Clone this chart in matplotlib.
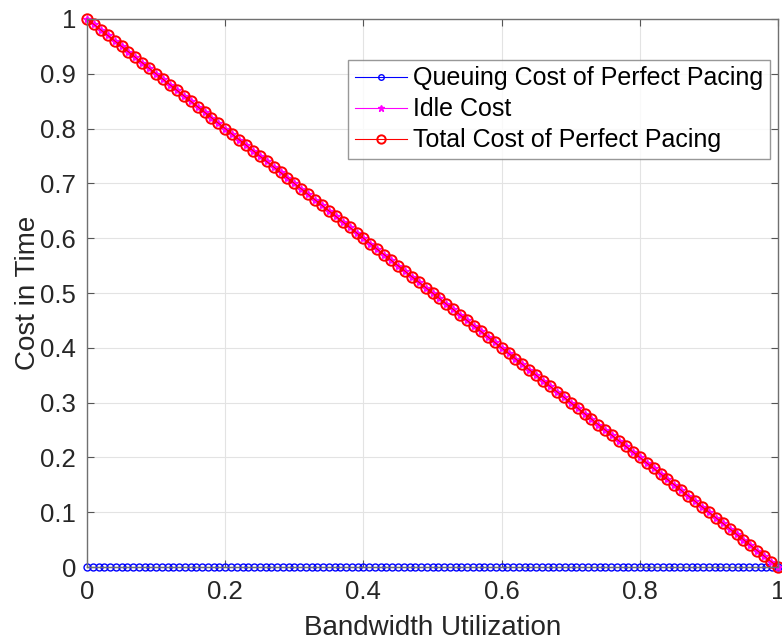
import matplotlib
matplotlib.use("Agg")
import matplotlib.pyplot as plt

plt.rcParams['font.family'] = ['Liberation Sans', 'DejaVu Sans']

# Queuing cost of perfect pacing (sampled on a finer grid)
queue_util = [
    0.0, 0.0083, 0.0167, 0.025, 0.0333, 0.0417, 0.05, 0.0583, 0.0667, 0.075,
    0.0833, 0.0917, 0.1, 0.1083, 0.1167, 0.125, 0.1333, 0.1417, 0.15, 0.1583,
    0.1667, 0.175, 0.1833, 0.1917, 0.2, 0.2083, 0.2167, 0.225, 0.2333, 0.2417,
    0.25, 0.2583, 0.2667, 0.275, 0.2833, 0.2917, 0.3, 0.3083, 0.3167, 0.325,
    0.3333, 0.3417, 0.35, 0.3583, 0.3667, 0.375, 0.3833, 0.3917, 0.4, 0.4083,
    0.4167, 0.425, 0.4333, 0.4417, 0.45, 0.4583, 0.4667, 0.475, 0.4833, 0.4917,
    0.5, 0.5083, 0.5167, 0.525, 0.5333, 0.5417, 0.55, 0.5583, 0.5667, 0.575,
    0.5833, 0.5917, 0.6, 0.6083, 0.6167, 0.625, 0.6333, 0.6417, 0.65, 0.6583,
    0.6667, 0.675, 0.6833, 0.6917, 0.7, 0.7083, 0.7167, 0.725, 0.7333, 0.7417,
    0.75, 0.7583, 0.7667, 0.775, 0.7833, 0.7917, 0.8, 0.8083, 0.8167, 0.825,
    0.8333, 0.8417, 0.85, 0.8583, 0.8667, 0.875, 0.8833, 0.8917, 0.9, 0.9083,
    0.9167, 0.925, 0.9333, 0.9417, 0.95, 0.9583, 0.9667, 0.975, 0.9833, 0.9917,
    1.0,
]
queue_cost = [
    0, 0, 0, 0, 0, 0, 0, 0, 0, 0, 0, 0, 0, 0, 0, 0, 0, 0, 0, 0,
    0, 0, 0, 0, 0, 0, 0, 0, 0, 0, 0, 0, 0, 0, 0, 0, 0, 0, 0, 0,
    0, 0, 0, 0, 0, 0, 0, 0, 0, 0, 0, 0, 0, 0, 0, 0, 0, 0, 0, 0,
    0, 0, 0, 0, 0, 0, 0, 0, 0, 0, 0, 0, 0, 0, 0, 0, 0, 0, 0, 0,
    0, 0, 0, 0, 0, 0, 0, 0, 0, 0, 0, 0, 0, 0, 0, 0, 0, 0, 0, 0,
    0, 0, 0, 0, 0, 0, 0, 0, 0, 0, 0, 0, 0, 0, 0, 0, 0, 0, 0, 0,
    0,
]

# Idle cost and total cost
util = [
    0.00, 0.01, 0.02, 0.03, 0.04, 0.05, 0.06, 0.07, 0.08, 0.09,
    0.10, 0.11, 0.12, 0.13, 0.14, 0.15, 0.16, 0.17, 0.18, 0.19,
    0.20, 0.21, 0.22, 0.23, 0.24, 0.25, 0.26, 0.27, 0.28, 0.29,
    0.30, 0.31, 0.32, 0.33, 0.34, 0.35, 0.36, 0.37, 0.38, 0.39,
    0.40, 0.41, 0.42, 0.43, 0.44, 0.45, 0.46, 0.47, 0.48, 0.49,
    0.50, 0.51, 0.52, 0.53, 0.54, 0.55, 0.56, 0.57, 0.58, 0.59,
    0.60, 0.61, 0.62, 0.63, 0.64, 0.65, 0.66, 0.67, 0.68, 0.69,
    0.70, 0.71, 0.72, 0.73, 0.74, 0.75, 0.76, 0.77, 0.78, 0.79,
    0.80, 0.81, 0.82, 0.83, 0.84, 0.85, 0.86, 0.87, 0.88, 0.89,
    0.90, 0.91, 0.92, 0.93, 0.94, 0.95, 0.96, 0.97, 0.98, 0.99,
    1.00,
]
idle_cost = [
    1.00, 0.99, 0.98, 0.97, 0.96, 0.95, 0.94, 0.93, 0.92, 0.91,
    0.90, 0.89, 0.88, 0.87, 0.86, 0.85, 0.84, 0.83, 0.82, 0.81,
    0.80, 0.79, 0.78, 0.77, 0.76, 0.75, 0.74, 0.73, 0.72, 0.71,
    0.70, 0.69, 0.68, 0.67, 0.66, 0.65, 0.64, 0.63, 0.62, 0.61,
    0.60, 0.59, 0.58, 0.57, 0.56, 0.55, 0.54, 0.53, 0.52, 0.51,
    0.50, 0.49, 0.48, 0.47, 0.46, 0.45, 0.44, 0.43, 0.42, 0.41,
    0.40, 0.39, 0.38, 0.37, 0.36, 0.35, 0.34, 0.33, 0.32, 0.31,
    0.30, 0.29, 0.28, 0.27, 0.26, 0.25, 0.24, 0.23, 0.22, 0.21,
    0.20, 0.19, 0.18, 0.17, 0.16, 0.15, 0.14, 0.13, 0.12, 0.11,
    0.10, 0.09, 0.08, 0.07, 0.06, 0.05, 0.04, 0.03, 0.02, 0.01,
    0.00,
]
total_cost = [
    1.00, 0.99, 0.98, 0.97, 0.96, 0.95, 0.94, 0.93, 0.92, 0.91,
    0.90, 0.89, 0.88, 0.87, 0.86, 0.85, 0.84, 0.83, 0.82, 0.81,
    0.80, 0.79, 0.78, 0.77, 0.76, 0.75, 0.74, 0.73, 0.72, 0.71,
    0.70, 0.69, 0.68, 0.67, 0.66, 0.65, 0.64, 0.63, 0.62, 0.61,
    0.60, 0.59, 0.58, 0.57, 0.56, 0.55, 0.54, 0.53, 0.52, 0.51,
    0.50, 0.49, 0.48, 0.47, 0.46, 0.45, 0.44, 0.43, 0.42, 0.41,
    0.40, 0.39, 0.38, 0.37, 0.36, 0.35, 0.34, 0.33, 0.32, 0.31,
    0.30, 0.29, 0.28, 0.27, 0.26, 0.25, 0.24, 0.23, 0.22, 0.21,
    0.20, 0.19, 0.18, 0.17, 0.16, 0.15, 0.14, 0.13, 0.12, 0.11,
    0.10, 0.09, 0.08, 0.07, 0.06, 0.05, 0.04, 0.03, 0.02, 0.01,
    0.00,
]

x_ticks = [0, 0.2, 0.4, 0.6, 0.8, 1]
x_tick_labels = ["0", "0.2", "0.4", "0.6", "0.8", "1"]
y_ticks = [0, 0.1, 0.2, 0.3, 0.4, 0.5, 0.6, 0.7, 0.8, 0.9, 1]
y_tick_labels = ["0", "0.1", "0.2", "0.3", "0.4", "0.5", "0.6", "0.7", "0.8", "0.9", "1"]

fig = plt.figure(figsize=(7.82, 6.41), dpi=100)
ax = fig.add_axes([0.1113, 0.1154, 0.8836, 0.855])

ax.plot(queue_util, queue_cost, color='blue', marker='o', markersize=5,
        markerfacecolor='none', linewidth=0.8, markeredgewidth=1.0,
        label='Queuing Cost of Perfect Pacing', clip_on=False)
ax.plot(util, idle_cost, color='magenta', marker='*', markersize=6,
        linewidth=0.8, label='Idle Cost', clip_on=False)
ax.plot(util, total_cost, color='red', marker='o', markersize=7.5,
        markerfacecolor='none', linewidth=0.8, markeredgewidth=1.4,
        label='Total Cost of Perfect Pacing', clip_on=False)

ax.set_xlim(0, 1)
ax.set_ylim(0, 1)
ax.set_xticks(x_ticks)
ax.set_xticklabels(x_tick_labels)
ax.set_yticks(y_ticks)
ax.set_yticklabels(y_tick_labels)
ax.tick_params(direction='in', top=True, right=True, labelsize=18.5,
               length=5, color='#555555', labelcolor='#262626')
ax.tick_params(axis='x', pad=9)
ax.tick_params(axis='y', pad=8)
ax.grid(True, color='#e3e3e3', linewidth=0.8)
ax.set_axisbelow(True)
for s in ax.spines.values():
    s.set_color('#707070')
    s.set_linewidth(1.0)

ax.set_xlabel('Bandwidth Utilization', fontsize=20, color='#262626', labelpad=8)
ax.set_ylabel('Cost in Time', fontsize=20, color='#262626', labelpad=-1)

leg = ax.legend(loc='upper right', bbox_to_anchor=(0.988, 0.925), fontsize=18,
                frameon=True, fancybox=False, handlelength=2.1,
                handletextpad=0.25, borderpad=0.25, labelspacing=0.28,
                borderaxespad=0, markerscale=0.8)
leg.get_frame().set_edgecolor('#7f7f7f')
leg.get_frame().set_linewidth(1.0)

fig.savefig('out.png', dpi=100)
